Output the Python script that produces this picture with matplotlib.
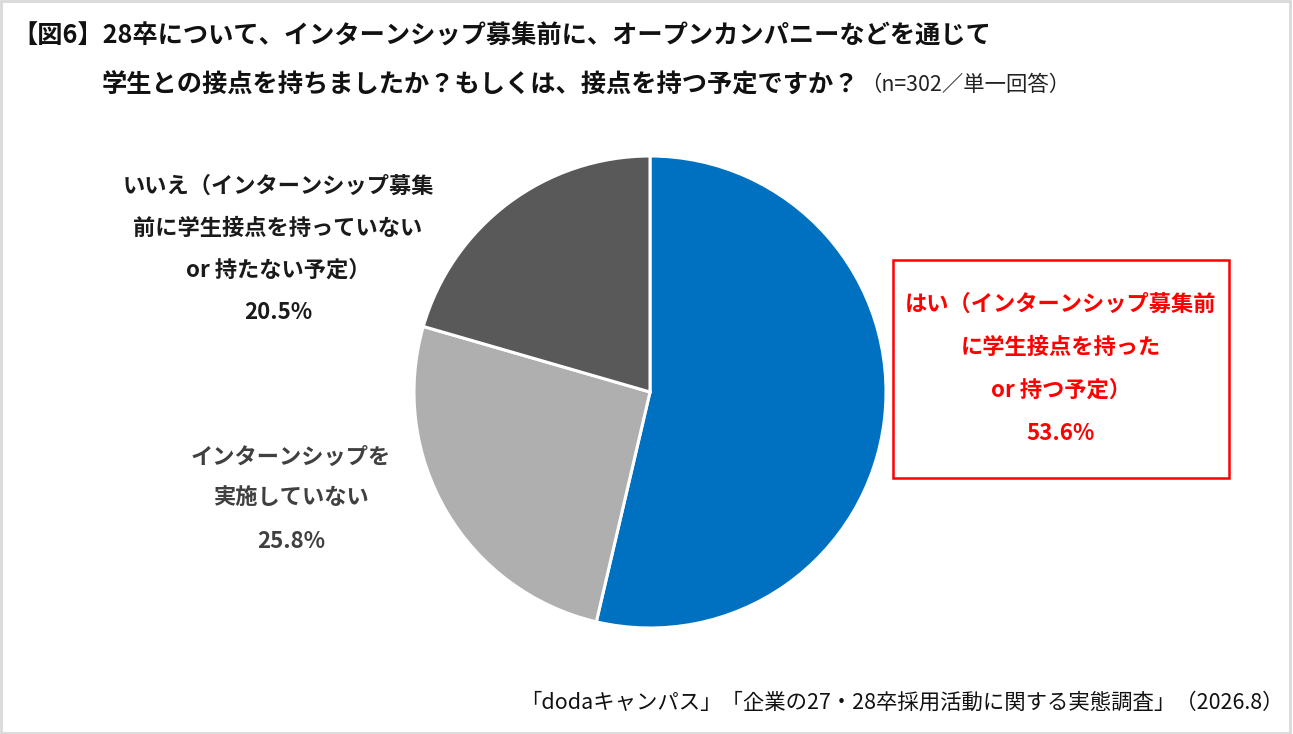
import numpy as np
import matplotlib
import matplotlib.pyplot as plt
matplotlib.use('Agg')
from matplotlib.patches import Rectangle

plt.rcParams['font.family'] = ['Noto Sans CJK JP', 'DejaVu Sans']

labels = ["はい（インターンシップ募集前\nに学生接点を持った\nor 持つ予定）",
          "インターンシップを\n実施していない",
          "いいえ（インターンシップ募集\n前に学生接点を持っていない\nor 持たない予定）"]
values = [53.6, 25.8, 20.5]
colors = ["#0070C0", "#AFAFAF", "#595959"]

title1 = "【図6】28卒について、インターンシップ募集前に、オープンカンパニーなどを通じて"
title2 = "学生との接点を持ちましたか？もしくは、接点を持つ予定ですか？"
note = "（n=302／単一回答）"
source = "「dodaキャンパス」「企業の27・28卒採用活動に関する実態調査」（2026.8）"

W, H = 1293, 734
fig = plt.figure(figsize=(W / 100, H / 100), dpi=100)

def fx(x):
    return x / W

def fy(y):
    return 1 - y / H

# outer frame
fig.patches.append(Rectangle((0.001, 0.002), 0.997, 0.996, transform=fig.transFigure,
                             fill=False, edgecolor="#D9D9D9", linewidth=2))

# pie
cx, cy, r = 650, 392, 236
ax = fig.add_axes([fx(cx - r), fy(cy + r), 2 * r / W, 2 * r / H])
ax.pie(values, colors=colors, startangle=90, counterclock=False,
       wedgeprops=dict(edgecolor="white", linewidth=2.2))
ax.set_xlim(-1, 1)
ax.set_ylim(-1, 1)
ax.set_aspect('auto')
ax.axis('off')

# titles
fig.text(fx(12), fy(36), title1, fontsize=18.2, fontweight='bold', va='center', color="#111111")
fig.text(fx(102), fy(84), title2, fontsize=18.2, fontweight='bold', va='center', color="#111111")
fig.text(fx(860), fy(85), note, fontsize=15.4, va='center', color="#222222")

def block(x, ys, lines, color):
    for y, s in zip(ys, lines):
        fig.text(fx(x), fy(y), s, fontsize=16, fontweight='bold', ha='center', va='center', color=color)

# labels
block(1061, [304, 347, 390, 433], labels[0].split("\n") + ["%.1f%%" % values[0]], "#FF0000")
block(291, [457, 498, 541], labels[1].split("\n") + ["%.1f%%" % values[1]], "#404040")
block(278, [186, 228, 270, 312], labels[2].split("\n") + ["%.1f%%" % values[2]], "#1A1A1A")

# red box
fig.patches.append(Rectangle((fx(893), fy(478)), (1229 - 893) / W, (478 - 260) / H,
                             transform=fig.transFigure, fill=False, edgecolor="#FF0000", linewidth=1.8))

fig.text(fx(1284), fy(703), source, fontsize=15.4, ha='right', va='center', color="#111111")

plt.savefig("out.png", dpi=100)
